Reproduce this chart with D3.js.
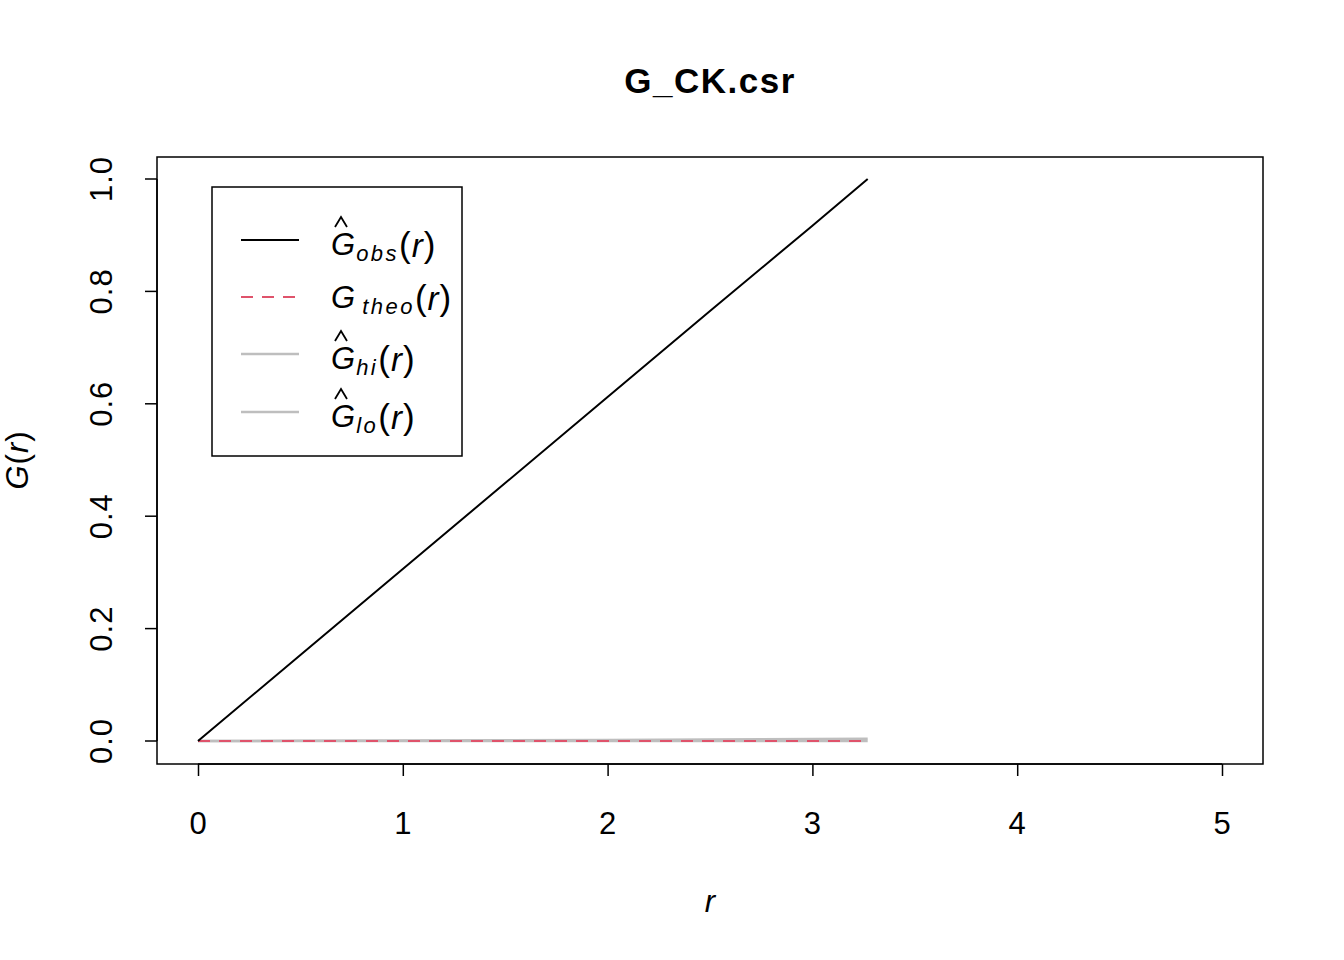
<!DOCTYPE html>
<html><head><meta charset="utf-8">
<script src="https://cdn.jsdelivr.net/npm/d3@7"></script>
<style>body{margin:0;background:#fff}svg{display:block}text{font-family:"Liberation Sans",Arial,sans-serif}</style>
</head><body>
<script>
const rVals  = [0, 0.5, 1.0, 1.5, 2.0, 2.5, 3.0, 3.27];
const obsVals = [0, 0.153, 0.306, 0.459, 0.612, 0.765, 0.917, 1.0];
const theoVals = [0, 0, 0, 0, 0, 0, 0, 0];
const hiVals = [0, 0.0003, 0.0008, 0.0013, 0.0018, 0.0025, 0.0035, 0.004];
const loVals = [0, 0, 0, 0, 0, 0, 0, 0];
const xTicks = [0, 1, 2, 3, 4, 5];
const yTicks = [0.0, 0.2, 0.4, 0.6, 0.8, 1.0];
const legendSubs = ["obs", "theo", "hi", "lo"];

const W = 1344, H = 960;
const FS = 31;
const svg = d3.select("body").append("svg").attr("width", W).attr("height", H);
const box = {l:157, r:1263, t:157, b:764};
const x = d3.scaleLinear().domain([0,5]).range([198,1222]);
const y = d3.scaleLinear().domain([0,1]).range([741,179]);

svg.append("rect").attr("x",box.l).attr("y",box.t).attr("width",box.r-box.l).attr("height",box.b-box.t)
  .attr("fill","none").attr("stroke","#000").attr("stroke-width",1.5);

const xa = svg.append("g").attr("transform",`translate(0,${box.b})`)
  .call(d3.axisBottom(x).tickValues(xTicks).tickFormat(d3.format("d")).tickSize(12).tickPadding(36));
xa.select(".domain").attr("d",`M${x(0)},0H${x(5)}`).attr("stroke-width",1.5);
xa.selectAll("line").attr("stroke-width",1.5);
xa.selectAll("text").attr("font-size",FS).attr("fill","#000").attr("letter-spacing",1);

const ya = svg.append("g").attr("transform",`translate(${box.l},0)`)
  .call(d3.axisLeft(y).tickValues(yTicks).tickFormat(d3.format(".1f")).tickSize(12).tickPadding(0));
ya.select(".domain").attr("d",`M0,${y(0)}V${y(1)}`).attr("stroke-width",1.5);
ya.selectAll("line").attr("stroke-width",1.5);
ya.selectAll("text").attr("font-size",FS).attr("fill","#000").attr("letter-spacing",1)
  .attr("transform","rotate(-90)").attr("text-anchor","middle")
  .attr("x", d => -y(d)).attr("y", -45).attr("dy",null).attr("dx",null);
ya.selectAll(".tick").attr("transform",null);
ya.selectAll(".tick line").attr("transform",d=>`translate(0,${y(d)})`);

const data = rVals.map((r,i)=>({r, obs:obsVals[i], theo:theoVals[i], hi:hiVals[i], lo:loVals[i]}));
const mk = k => d3.line().x(d=>x(d.r)).y(d=>y(d[k]));
svg.append("path").datum(data).attr("d",mk("lo")).attr("fill","none").attr("stroke","#BEBEBE").attr("stroke-width",2.5);
svg.append("path").datum(data).attr("d",mk("hi")).attr("fill","none").attr("stroke","#BEBEBE").attr("stroke-width",2.5);
svg.append("path").datum(data).attr("d",mk("theo")).attr("fill","none").attr("stroke","#DF536B").attr("stroke-width",2).attr("stroke-dasharray","12,9");
svg.append("path").datum(data).attr("d",mk("obs")).attr("fill","none").attr("stroke","#000").attr("stroke-width",2);

svg.append("text").attr("x",710).attr("y",93).attr("text-anchor","middle").attr("font-size",35).attr("font-weight","bold").attr("letter-spacing",1.5).text("G_CK.csr");
svg.append("text").attr("x",710).attr("y",912).attr("text-anchor","middle").attr("font-size",FS).attr("font-style","italic").text("r");
const yl = svg.append("text").attr("transform","translate(28,460) rotate(-90)").attr("text-anchor","middle").attr("font-size",FS).attr("letter-spacing",1);
yl.append("tspan").attr("font-style","italic").text("G");
yl.append("tspan").text("(");
yl.append("tspan").attr("font-style","italic").text("r");
yl.append("tspan").text(")");

// legend
svg.append("rect").attr("x",212).attr("y",187).attr("width",250).attr("height",269).attr("fill","none").attr("stroke","#000").attr("stroke-width",1.5);
const rows = [
  {sub:legendSubs[0], col:"#000", dash:null, hat:true, w:2},
  {sub:legendSubs[1], col:"#DF536B", dash:"12,9", hat:false, w:2},
  {sub:legendSubs[2], col:"#BEBEBE", dash:null, hat:true, w:2.5},
  {sub:legendSubs[3], col:"#BEBEBE", dash:null, hat:true, w:2.5}
];
const rowY = [240, 297, 354, 412];
rows.forEach((rw,i)=>{
  const cy = rowY[i];
  svg.append("line").attr("x1",241).attr("x2",299).attr("y1",cy).attr("y2",cy)
    .attr("stroke",rw.col).attr("stroke-width",rw.w).attr("stroke-dasharray",rw.dash);
  const gx = 331;
  const base = rw.hat ? cy + 15 : cy + 11;
  const t = svg.append("text").attr("x",gx).attr("y",base).attr("font-size",FS);
  t.append("tspan").attr("font-style","italic").text("G");
  t.append("tspan").attr("font-style","italic").attr("font-size",22).attr("letter-spacing",2.5)
    .attr("dy",6).attr("dx", rw.hat?1:7).text(rw.sub);
  t.append("tspan").attr("dy",-4).attr("dx",0).attr("font-size",35).text("(");
  t.append("tspan").attr("font-style","italic").attr("font-size",33).attr("dx",1).text("r");
  t.append("tspan").attr("font-size",35).attr("dx",1).text(")");
  if (rw.hat) {
    svg.append("path").attr("d",`M${gx+4},${base-28}L${gx+10},${base-38}L${gx+16},${base-28}`)
      .attr("fill","none").attr("stroke","#000").attr("stroke-width",1.8);
  }
});
</script>
</body></html>
